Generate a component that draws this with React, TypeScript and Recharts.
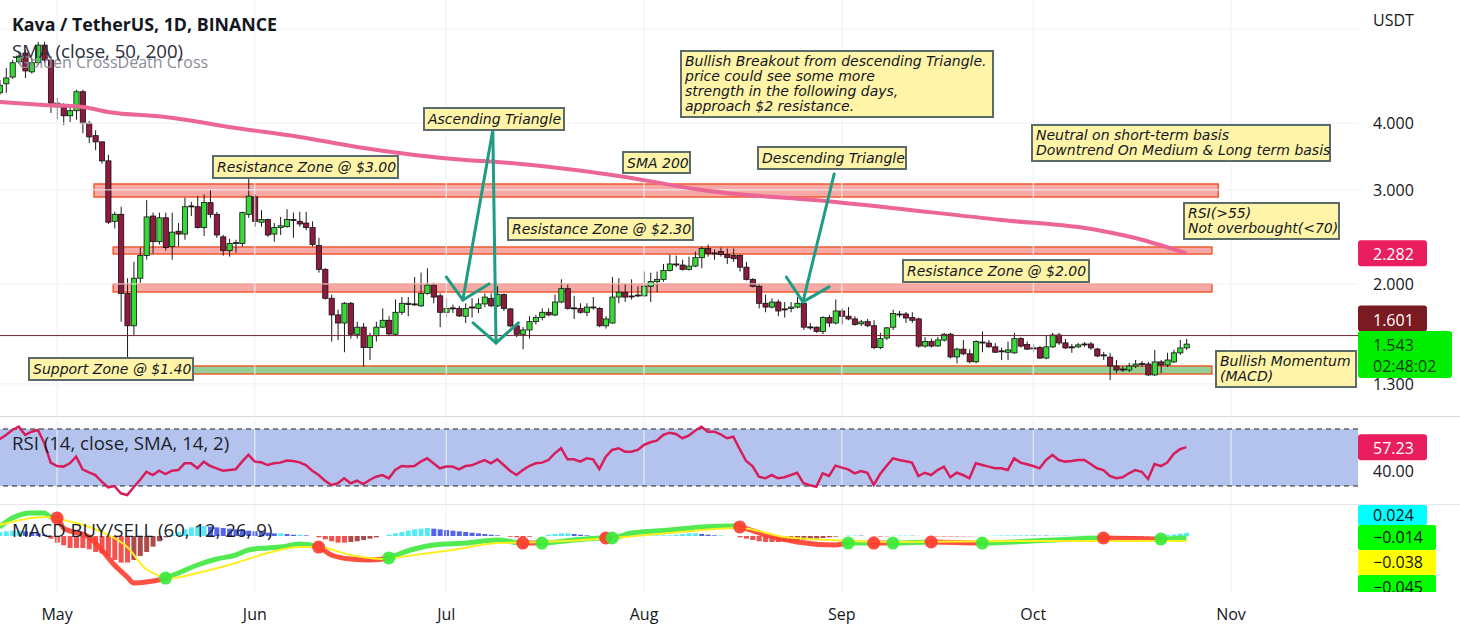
import React from 'react';
import { ComposedChart, Bar, Line, XAxis, YAxis, ReferenceLine, ReferenceArea, Cell } from 'recharts';

const FONT = "'Open Sans', 'Noto Sans', sans-serif";
const NOTE_FONT = "'DejaVu Sans', sans-serif";

// daily candles, index 0 = Apr 22 ... index 186 = Oct 25, [open, high, low, close]
const ohlc: [number, number, number, number][] = [
  [4.56, 4.82, 4.52, 4.71], [4.74, 5.07, 4.56, 4.86], [4.88, 5.25, 4.84, 5.19], [5.21, 5.44, 5.16, 5.34], [5.41, 5.48, 4.86, 5.01],
  [4.99, 5.3, 4.95, 5.19], [5.19, 5.68, 5.14, 5.6], [5.6, 5.68, 5.19, 5.25], [5.25, 5.32, 4.18, 4.36], [4.36, 4.46, 4.07, 4.29],
  [4.29, 4.36, 3.97, 4.13], [4.13, 4.33, 4.02, 4.22], [4.22, 4.62, 4.06, 4.58], [4.58, 4.62, 3.83, 4.0], [4.0, 4.04, 3.67, 3.77],
  [3.79, 3.88, 3.56, 3.69], [3.69, 3.7, 3.36, 3.4], [3.4, 3.49, 2.59, 2.61], [2.62, 2.73, 2.54, 2.7], [2.7, 2.79, 1.7, 1.92],
  [1.92, 2.05, 1.43, 1.67], [1.67, 2.2, 1.6, 2.05], [2.05, 2.34, 2.01, 2.26], [2.26, 2.87, 2.22, 2.67], [2.68, 2.72, 2.28, 2.4],
  [2.4, 2.72, 2.37, 2.66], [2.66, 2.72, 2.31, 2.34], [2.35, 2.72, 2.22, 2.5], [2.51, 2.6, 2.35, 2.48], [2.48, 2.9, 2.42, 2.79],
  [2.8, 2.85, 2.68, 2.79], [2.79, 2.92, 2.54, 2.55], [2.55, 2.94, 2.46, 2.84], [2.84, 3.0, 2.66, 2.7], [2.7, 2.73, 2.44, 2.47],
  [2.45, 2.47, 2.26, 2.31], [2.31, 2.43, 2.25, 2.38], [2.38, 2.42, 2.29, 2.39], [2.38, 2.73, 2.35, 2.72], [2.7, 3.27, 2.66, 2.92],
  [2.91, 2.94, 2.56, 2.62], [2.61, 2.75, 2.56, 2.64], [2.64, 2.65, 2.45, 2.47], [2.48, 2.6, 2.4, 2.55], [2.55, 2.67, 2.47, 2.57],
  [2.56, 2.76, 2.55, 2.64], [2.64, 2.72, 2.44, 2.63], [2.62, 2.73, 2.56, 2.59], [2.6, 2.73, 2.52, 2.55], [2.55, 2.62, 2.35, 2.37],
  [2.36, 2.44, 2.1, 2.13], [2.13, 2.14, 1.87, 1.88], [1.88, 1.91, 1.56, 1.75], [1.75, 1.79, 1.57, 1.69], [1.69, 1.85, 1.49, 1.84],
  [1.84, 1.85, 1.58, 1.61], [1.61, 1.7, 1.58, 1.66], [1.66, 1.69, 1.4, 1.52], [1.52, 1.62, 1.44, 1.6], [1.6, 1.7, 1.56, 1.66],
  [1.66, 1.8, 1.655, 1.71], [1.71, 1.74, 1.605, 1.612], [1.61, 1.87, 1.605, 1.77], [1.77, 1.89, 1.75, 1.84], [1.84, 1.89, 1.74, 1.83],
  [1.835, 2.06, 1.82, 1.827], [1.82, 2.1, 1.81, 1.92], [1.92, 2.14, 1.91, 1.99], [1.99, 2.01, 1.84, 1.89], [1.9, 1.92, 1.66, 1.77],
  [1.77, 1.88, 1.73, 1.8], [1.804, 1.83, 1.765, 1.796], [1.8, 1.82, 1.735, 1.742], [1.74, 1.84, 1.69, 1.8], [1.811, 1.88, 1.73, 1.804],
  [1.8, 1.88, 1.765, 1.835], [1.835, 1.92, 1.81, 1.89], [1.88, 1.92, 1.81, 1.82], [1.82, 1.98, 1.81, 1.91], [1.91, 1.92, 1.78, 1.8],
  [1.796, 1.804, 1.66, 1.669], [1.67, 1.69, 1.59, 1.61], [1.61, 1.66, 1.51, 1.64], [1.64, 1.74, 1.58, 1.7], [1.7, 1.75, 1.68, 1.73],
  [1.73, 1.8, 1.71, 1.77], [1.77, 1.8, 1.74, 1.75], [1.75, 1.91, 1.74, 1.85], [1.85, 2.04, 1.84, 1.96], [1.96, 2.0, 1.79, 1.8],
  [1.804, 1.9, 1.72, 1.8], [1.8, 1.84, 1.76, 1.77], [1.77, 1.84, 1.74, 1.81], [1.811, 1.89, 1.79, 1.804], [1.8, 1.81, 1.66, 1.67],
  [1.67, 1.74, 1.65, 1.72], [1.69, 2.06, 1.685, 1.89], [1.89, 2.05, 1.84, 1.93], [1.93, 2.0, 1.85, 1.89], [1.899, 2.04, 1.87, 1.891],
  [1.907, 1.98, 1.89, 1.899], [1.9, 2.11, 1.89, 1.98], [1.98, 2.1, 1.85, 2.02], [2.02, 2.11, 1.93, 2.04], [2.04, 2.18, 2.02, 2.12],
  [2.12, 2.27, 2.11, 2.18], [2.18, 2.26, 2.15, 2.171], [2.17, 2.22, 2.12, 2.13], [2.13, 2.25, 2.12, 2.16], [2.16, 2.3, 2.15, 2.24],
  [2.24, 2.35, 2.14, 2.33], [2.33, 2.37, 2.25, 2.28], [2.286, 2.32, 2.22, 2.276], [2.3, 2.34, 2.25, 2.27], [2.27, 2.33, 2.18, 2.24],
  [2.26, 2.33, 2.2, 2.23], [2.26, 2.27, 2.11, 2.15], [2.15, 2.2, 2.03, 2.04], [2.04, 2.05, 1.97, 1.98], [1.98, 2.0, 1.8, 1.84],
  [1.84, 1.91, 1.77, 1.81], [1.81, 1.88, 1.8, 1.85], [1.85, 1.87, 1.74, 1.78], [1.796, 1.85, 1.73, 1.788], [1.8, 1.85, 1.77, 1.81],
  [1.81, 1.89, 1.8, 1.84], [1.84, 1.85, 1.64, 1.66], [1.662, 1.69, 1.64, 1.658], [1.66, 1.665, 1.62, 1.63], [1.63, 1.74, 1.61, 1.73],
  [1.73, 1.75, 1.66, 1.69], [1.69, 1.87, 1.68, 1.78], [1.78, 1.8, 1.68, 1.74], [1.74, 1.81, 1.71, 1.72], [1.72, 1.74, 1.67, 1.68],
  [1.684, 1.713, 1.669, 1.698], [1.7, 1.72, 1.66, 1.67], [1.67, 1.71, 1.51, 1.52], [1.52, 1.62, 1.51, 1.58], [1.584, 1.662, 1.571, 1.655],
  [1.66, 1.79, 1.64, 1.76], [1.757, 1.78, 1.73, 1.753], [1.757, 1.773, 1.691, 1.727], [1.73, 1.77, 1.69, 1.71], [1.72, 1.73, 1.52, 1.53],
  [1.53, 1.59, 1.52, 1.56], [1.56, 1.58, 1.52, 1.53], [1.531, 1.591, 1.525, 1.571], [1.57, 1.62, 1.56, 1.61], [1.61, 1.62, 1.45, 1.46],
  [1.46, 1.52, 1.42, 1.51], [1.51, 1.57, 1.47, 1.48], [1.48, 1.51, 1.42, 1.43], [1.43, 1.57, 1.42, 1.56], [1.557, 1.63, 1.49, 1.551],
  [1.55, 1.57, 1.52, 1.525], [1.525, 1.55, 1.486, 1.49], [1.499, 1.52, 1.44, 1.495], [1.49, 1.56, 1.44, 1.505], [1.486, 1.62, 1.48, 1.58],
  [1.58, 1.59, 1.52, 1.53], [1.54, 1.56, 1.505, 1.51], [1.518, 1.544, 1.492, 1.515], [1.52, 1.53, 1.447, 1.453], [1.453, 1.605, 1.445, 1.525],
  [1.525, 1.62, 1.518, 1.605], [1.605, 1.62, 1.538, 1.551], [1.551, 1.578, 1.511, 1.518], [1.525, 1.544, 1.486, 1.521], [1.525, 1.551, 1.518, 1.538],
  [1.544, 1.557, 1.525, 1.541], [1.544, 1.557, 1.505, 1.518], [1.511, 1.518, 1.459, 1.466], [1.473, 1.492, 1.441, 1.469], [1.459, 1.486, 1.322, 1.404],
  [1.404, 1.441, 1.362, 1.38], [1.386, 1.404, 1.368, 1.383], [1.38, 1.423, 1.368, 1.404], [1.404, 1.441, 1.392, 1.416], [1.42, 1.435, 1.398, 1.416],
  [1.416, 1.429, 1.345, 1.351], [1.351, 1.505, 1.345, 1.429], [1.429, 1.441, 1.362, 1.41], [1.41, 1.486, 1.398, 1.441], [1.429, 1.505, 1.423, 1.486],
  [1.486, 1.571, 1.473, 1.518], [1.518, 1.578, 1.505, 1.543],
];

// SMA 200 read at a few days [day, value]
const sma200: [number, number][] = [
  [0, 4.382], [7, 4.326], [13, 4.289], [17, 4.198], [26, 4.108], [37, 3.918], [47, 3.769], [56, 3.61], [73, 3.413],
  [78, 3.384], [98, 3.172], [110, 2.999], [131, 2.848], [157, 2.635], [172, 2.524], [178, 2.438], [186, 2.282],
];

const rsi = [
  62.8, 65.8, 69.3, 71.6, 65.8, 68.1, 69.3, 60.2, 46.4, 44.0,
  43.6, 45.9, 50.6, 41.7, 39.6, 37.7, 33.0, 29.1, 30.0, 24.9,
  23.7, 29.1, 34.2, 40.0, 37.7, 40.7, 38.4, 40.7, 41.2, 45.9,
  45.9, 42.4, 47.1, 44.0, 42.4, 40.7, 41.2, 41.7, 47.1, 51.8,
  47.1, 46.6, 44.7, 45.9, 46.4, 47.8, 47.5, 46.6, 44.7, 40.7,
  37.7, 33.7, 30.7, 31.9, 35.4, 31.9, 33.7, 31.4, 34.2, 36.5,
  37.7, 35.4, 41.2, 44.0, 43.6, 44.0, 47.1, 49.4, 45.9, 42.4,
  43.6, 43.6, 41.7, 44.0, 44.5, 46.4, 48.2, 45.9, 48.7, 44.7,
  40.7, 37.7, 41.2, 44.0, 45.9, 46.4, 48.2, 52.9, 56.5, 48.7,
  48.7, 47.1, 49.4, 48.7, 41.9, 50.6, 55.3, 56.5, 54.1, 54.1,
  55.3, 58.8, 60.7, 61.8, 65.8, 67.4, 66.5, 63.5, 65.3, 68.8,
  71.6, 68.1, 68.1, 66.3, 63.5, 64.6, 55.8, 47.5, 44.0, 36.5,
  35.4, 37.7, 35.4, 36.1, 37.7, 39.3, 31.9, 30.5, 29.5, 38.9,
  37.0, 44.3, 42.9, 41.7, 38.9, 40.5, 39.3, 30.7, 38.4, 44.0,
  49.4, 48.2, 47.3, 46.4, 37.0, 39.3, 37.7, 41.2, 43.6, 36.1,
  39.3, 37.7, 35.4, 45.9, 44.7, 43.6, 42.4, 42.4, 41.2, 49.4,
  46.4, 45.2, 44.0, 42.4, 48.2, 51.8, 48.2, 47.1, 47.5, 48.2,
  48.2, 45.4, 42.4, 41.2, 37.0, 35.4, 36.1, 38.9, 41.2, 40.0,
  34.9, 45.4, 44.0, 46.4, 52.5, 55.8, 57.23,
];

// MACD line / signal read at a few days [day, value]
const macdLine: [number, number][] = [
  [0, 0.068], [2, 0.135], [5, 0.173], [7, 0.173], [8, 0.143], [9, 0.135], [10, 0.06], [14, -0.008], [16, -0.105],
  [18, -0.218], [20, -0.308], [21, -0.353], [23, -0.346], [26, -0.316], [28, -0.278], [31, -0.218], [34, -0.173],
  [37, -0.143], [39, -0.105], [42, -0.09], [44, -0.083], [47, -0.06], [50, -0.083], [52, -0.143], [55, -0.173],
  [58, -0.18], [61, -0.165], [63, -0.128], [65, -0.098], [68, -0.068], [73, -0.053], [78, -0.03], [82, -0.053],
  [85, -0.053], [90, -0.03], [95, -0.015], [96, -0.015], [99, 0.023], [105, 0.045], [110, 0.068], [115, 0.075],
  [116, 0.068], [120, 0.008], [125, -0.045], [131, -0.068], [133, -0.053], [137, -0.053], [140, -0.053],
  [146, -0.045], [154, -0.053], [165, -0.03], [173, -0.015], [182, -0.023], [186, -0.014],
];
const signalLine: [number, number][] = [
  [0, 0.083], [7, 0.143], [10, 0.12], [16, 0.03], [20, -0.083], [23, -0.25], [27, -0.316], [31, -0.278], [37, -0.203],
  [42, -0.128], [47, -0.083], [50, -0.083], [55, -0.143], [60, -0.173], [65, -0.143], [71, -0.105], [78, -0.053],
  [85, -0.045], [96, -0.015], [105, 0.023], [116, 0.06], [123, -0.008], [130, -0.03], [140, -0.045], [160, -0.038],
  [186, -0.038],
];
const macdHist = [
  0.03, 0.035, 0.04, 0.04, 0.035, 0.03, 0.02, 0.01,
  -0.02, -0.05, -0.07, -0.09, -0.09, -0.09, -0.1, -0.12, -0.13, -0.15, -0.18, -0.2, -0.2, -0.18, -0.15, -0.12, -0.08, -0.04,
  -0.01,
  0.01, 0.03, 0.05, 0.065, 0.075, 0.075, 0.07, 0.065, 0.06, 0.055, 0.05, 0.045, 0.04, 0.035, 0.03, 0.025, 0.02, 0.02, 0.015, 0.01, 0.01, 0.005,
  0,
  -0.01, -0.025, -0.04, -0.05, -0.05, -0.045, -0.04, -0.03, -0.02, -0.01,
  0,
  0.01, 0.02, 0.03, 0.04, 0.05, 0.055, 0.06, 0.055, 0.05, 0.045, 0.04, 0.035, 0.03, 0.025, 0.02, 0.015, 0.01, 0.005,
  0, -0.005, -0.01, -0.01, -0.005, 0, 0,
  0.01, 0.015, 0.02, 0.02, 0.015, 0.01, 0.005,
  0, 0, -0.005, 0, 0, 0, 0.005, 0.005, 0.005, 0.005, 0.005, 0.005, 0.005,
  0.01, 0.015, 0.02, 0.02, 0.015, 0.01,
  0.005, 0.005, 0, 0,
  -0.01, -0.02, -0.03, -0.04, -0.045, -0.045, -0.045, -0.04, -0.04, -0.035, -0.03, -0.025, -0.02, -0.015, -0.01, -0.005,
  0, 0.003, 0.004, 0.003, 0,
  -0.003, -0.004, -0.002,
  0.002, 0.003, 0.003, 0.002, 0.001, 0,
  -0.002, -0.003, -0.004, -0.004, -0.003, -0.003, -0.002, -0.001,
  0.001, 0.002, 0.003, 0.004, 0.004, 0.005, 0.005, 0.005, 0.004, 0.004, 0.003, 0.003, 0.003, 0.002, 0.002, 0.002, 0.001, 0.001, 0,
  -0.002, -0.004, -0.006, -0.007, -0.007, -0.006, -0.005, -0.003, -0.001,
  0.004, 0.008, 0.012, 0.018, 0.024,
];
// MACD crossings: day, direction of the cross
const macdCrosses: [number, 'up' | 'down'][] = [
  [9, 'down'], [26, 'up'], [50, 'down'], [61, 'up'], [82, 'down'], [85, 'up'], [95, 'down'], [96, 'up'],
  [116, 'down'], [133, 'up'], [137, 'down'], [140, 'up'], [146, 'down'], [154, 'up'], [173, 'down'], [182, 'up'],
];

const monthTicks = [9, 40, 70, 101, 132, 162, 193];
const monthLabels = ['May', 'Jun', 'Jul', 'Aug', 'Sep', 'Oct', 'Nov'];
const priceTicks = [1.3, 2, 3, 4, 6];
const currentLevel = 1.601;

// horizontal zones [fromDay, toDay, low, high, kind]
const zones: [number, number, number, number, 'res' | 'sup'][] = [
  [14.8, 191, 2.91, 3.078, 'res'],
  [17.8, 190, 2.276, 2.346, 'res'],
  [17.8, 190, 1.932, 2.0, 'res'],
  [17.8, 190, 1.357, 1.404, 'sup'],
];

// trend arrows [day1, price1, day2, price2]
const arrows: [number, number, number, number][] = [
  [77.3, 3.884, 72.6, 1.867], [70.0, 2.061, 72.6, 1.867], [76.7, 2.0, 72.6, 1.867],
  [77.3, 3.884, 77.8, 1.551], [74.2, 1.691, 77.8, 1.551], [81.3, 1.691, 77.8, 1.551],
  [130.8, 3.213, 125.9, 1.851], [123.3, 2.061, 125.9, 1.851], [130.0, 1.975, 125.9, 1.851],
];

const notes = [
  { lines: ['Resistance Zone @ $3.00'], left: 212, top: 155, w: 187, h: 24 },
  { lines: ['Ascending Triangle'], left: 423, top: 107, w: 142, h: 24 },
  { lines: ['SMA 200'], left: 622, top: 151, w: 69, h: 23 },
  { lines: ['Descending Triangle'], left: 757, top: 146, w: 150, h: 24 },
  {
    lines: ['Bullish Breakout from descending Triangle.', 'price could see some more', 'strength in the following days,', 'approach $2 resistance.'],
    left: 680, top: 50, w: 314, h: 68,
  },
  { lines: ['Neutral on short-term basis', 'Downtrend On Medium & Long term basis'], left: 1031, top: 124, w: 300, h: 38 },
  { lines: ['Resistance Zone @ $2.30'], left: 507, top: 217, w: 187, h: 24 },
  { lines: ['RSI(>55)', 'Not overbought(<70)'], left: 1183, top: 202, w: 157, h: 38 },
  { lines: ['Resistance Zone @ $2.00'], left: 902, top: 259, w: 188, h: 24 },
  { lines: ['Support Zone @ $1.40'], left: 28, top: 357, w: 166, h: 24 },
  { lines: ['Bullish Momentum', '(MACD)'], left: 1215, top: 350, w: 142, h: 38 },
];

const X_DOMAIN: [number, number] = [0.06, 212.9];
const AXIS_W = 102;
const GREEN = '#3ad93a';
const RED = '#8e1a3c';

const lastDay = ohlc.length - 1;
const smaMap = new Map(sma200);
const macdMap = new Map(macdLine);
const sigMap = new Map(signalLine);
const crossMap = new Map(macdCrosses);

const priceRows = ohlc.map(([o, h, l, c], i) => ({ day: i, o, h, l, c, range: [l, h], sma: smaMap.get(i) ?? null }));
const rsiRows = rsi.map((v, i) => ({ day: i, rsi: v }));
const macdRows = ohlc.map((_, i) => ({
  day: i,
  hist: macdHist[i],
  macd: macdMap.get(i) ?? null,
  signal: sigMap.get(i) ?? null,
  redDot: crossMap.get(i) === 'down' ? macdMap.get(i) ?? null : null,
  greenDot: crossMap.get(i) === 'up' ? macdMap.get(i) ?? null : null,
}));

const histColor = (i: number) => {
  const v = macdHist[i];
  const prev = i > 0 ? macdHist[i - 1] : 0;
  if (v >= 0) return v >= prev ? '#55eaf6' : '#5364e6';
  return v <= prev ? '#f4524f' : '#ad4b4b';
};

// colour stops for the MACD line, green while above signal, red below
const macdStops: { off: number; color: string }[] = [];
{
  let from = 0;
  let color = '#3ee83e';
  for (const [d, dir] of macdCrosses) {
    macdStops.push({ off: from / lastDay, color }, { off: d / lastDay, color });
    from = d;
    color = dir === 'down' ? '#ff3d2e' : '#3ee83e';
  }
  macdStops.push({ off: from / lastDay, color }, { off: 1, color });
}

const Candle = (props: any) => {
  const { x, y, width, height, payload } = props;
  if (!payload || x == null || y == null) return <g />;
  const top = Math.min(y, y + height);
  const hgt = Math.abs(height);
  const lh = Math.log(payload.h);
  const span = lh - Math.log(payload.l);
  const toY = (v: number) => (span > 0 ? top + ((lh - Math.log(v)) / span) * hgt : top);
  const cx = x + width / 2;
  const yo = toY(payload.o);
  const yc = toY(payload.c);
  const up = payload.c >= payload.o;
  return (
    <g>
      <line x1={cx} x2={cx} y1={top} y2={top + hgt} stroke="#1a1a1a" strokeWidth={1} />
      <rect
        x={cx - 2.6}
        y={Math.min(yo, yc)}
        width={5.2}
        height={Math.max(1, Math.abs(yo - yc))}
        fill={up ? GREEN : RED}
        stroke="#111"
        strokeWidth={0.8}
      />
    </g>
  );
};

const Badge = (props: any) => {
  const { viewBox, text, sub, bg, color = '#fff', w = 69, dy = 0 } = props;
  if (!viewBox) return null;
  const x0 = viewBox.x + viewBox.width;
  const cy = viewBox.y + dy;
  return (
    <g>
      <rect x={x0} y={cy - 13} width={w} height={sub ? 47 : 26} rx={3} fill={bg} />
      <text x={x0 + 15} y={cy + 1} dominantBaseline="central" fontSize={16} fill={color} fontFamily={FONT}>
        {text}
      </text>
      {sub && (
        <text x={x0 + 15} y={cy + 22} dominantBaseline="central" fontSize={16} fill={color} fontFamily={FONT}>
          {sub}
        </text>
      )}
    </g>
  );
};

const crossDot = (fill: string) => (p: any) =>
  p.value != null && Number.isFinite(p.cy) ? (
    <circle key={`d${p.index}`} cx={p.cx} cy={p.cy} r={6.5} fill={fill} fillOpacity={0.92} />
  ) : (
    <g key={`d${p.index}`} />
  );

const monthGrid = monthTicks.map((d) => <ReferenceLine key={`m${d}`} x={d} stroke="#eef0f5" strokeWidth={1} />);

const txt = (s: React.CSSProperties): React.CSSProperties => ({
  position: 'absolute',
  fontFamily: FONT,
  whiteSpace: 'pre',
  lineHeight: '22px',
  color: '#131722',
  ...s,
});

const macdBadges = [
  { text: macdHist[lastDay].toFixed(3), bg: '#00ffff', top: 505, h: 20, w: 69 },
  { text: '\u22120.014', bg: '#00ff00', top: 525, h: 25, w: 78 },
  { text: '\u2212' + Math.abs(signalLine[signalLine.length - 1][1]).toFixed(3), bg: '#ffff00', top: 550, h: 25, w: 78 },
  { text: '\u22120.045', bg: '#00ff00', top: 575, h: 25, w: 78 },
];

export default function App() {
  const last = ohlc[lastDay];
  return (
    <div style={{ position: 'absolute', left: 0, top: 0, width: 1460, height: 634, background: '#fff', overflow: 'hidden' }}>
      {/* price pane */}
      <div style={{ position: 'absolute', left: 0, top: 0 }}>
        <ComposedChart width={1460} height={417} data={priceRows} margin={{ top: 0, right: 0, bottom: 0, left: 0 }}>
          <XAxis dataKey="day" type="number" domain={X_DOMAIN} hide allowDataOverflow />
          <YAxis
            orientation="right"
            width={AXIS_W}
            scale="log"
            type="number"
            domain={[1.127, 6.802]}
            allowDataOverflow
            ticks={priceTicks}
            tickFormatter={(v: number) => (v >= 6 ? '' : v.toFixed(3))}
            axisLine={false}
            tickLine={false}
            tickSize={0}
            tickMargin={15}
            tick={{ fontSize: 16, fill: '#131722', fontFamily: FONT }}
          />
          {monthGrid}
          {priceTicks.map((p) => (
            <ReferenceLine key={`p${p}`} y={p} stroke="#eef0f5" strokeWidth={1} />
          ))}
          {zones.map(([x1, x2, lo, hi, kind], i) => (
            <ReferenceArea
              key={`z${i}`}
              x1={x1}
              x2={x2}
              y1={lo}
              y2={hi}
              fill={kind === 'res' ? '#ef5350' : '#4caf50'}
              fillOpacity={kind === 'res' ? 0.5 : 0.6}
              stroke="#ef5a2e"
              strokeWidth={1.5}
              strokeOpacity={1}
            />
          ))}
          <ReferenceLine y={currentLevel} stroke="#7b2231" strokeWidth={1} />
          <Bar dataKey="range" barSize={5} shape={(p: any) => <Candle {...p} />} isAnimationActive={false} />
          <Line
            dataKey="sma"
            type="monotone"
            connectNulls
            stroke="#ec6597"
            strokeWidth={4}
            dot={false}
            isAnimationActive={false}
          />
          {arrows.map(([x1, y1, x2, y2], i) => (
            <ReferenceLine
              key={`a${i}`}
              segment={[
                { x: x1, y: y1 },
                { x: x2, y: y2 },
              ]}
              stroke="#1e9c84"
              strokeWidth={3}
              strokeLinecap="round"
              ifOverflow="visible"
            />
          ))}
          <ReferenceLine
            y={sma200[sma200.length - 1][1]}
            stroke="none"
            label={<Badge text={sma200[sma200.length - 1][1].toFixed(3)} bg="#e91e5f" />}
          />
          <ReferenceLine y={currentLevel} stroke="none" label={<Badge text={currentLevel.toFixed(3)} bg="#7a1a22" dy={-17} />} />
          <ReferenceLine
            y={last[3]}
            stroke="none"
            label={<Badge text={last[3].toFixed(3)} sub="02:48:02" bg="#00ee00" color="#123d12" w={94} />}
          />
        </ComposedChart>
      </div>

      {/* RSI pane */}
      <div style={{ position: 'absolute', left: 0, top: 418 }}>
        <ComposedChart width={1460} height={86} data={rsiRows} margin={{ top: 0, right: 0, bottom: 0, left: 0 }}>
          <XAxis dataKey="day" type="number" domain={X_DOMAIN} hide allowDataOverflow />
          <YAxis
            orientation="right"
            width={AXIS_W}
            type="number"
            domain={[17.37, 77.7]}
            allowDataOverflow
            ticks={[40]}
            tickFormatter={(v: number) => v.toFixed(2)}
            axisLine={false}
            tickLine={false}
            tickSize={0}
            tickMargin={15}
            tick={{ fontSize: 16, fill: '#131722', fontFamily: FONT }}
          />
          {monthGrid}
          <ReferenceArea y1={30} y2={70} fill="#b4c3ed" fillOpacity={1} stroke="none" />
          <ReferenceLine y={70} stroke="#222" strokeDasharray="5 4" />
          <ReferenceLine y={30} stroke="#222" strokeDasharray="5 4" />
          <Line dataKey="rsi" type="linear" stroke="#d81d5b" strokeWidth={2.5} dot={false} isAnimationActive={false} />
          <ReferenceLine
            y={rsi[rsi.length - 1]}
            stroke="none"
            label={<Badge text={rsi[rsi.length - 1].toFixed(2)} bg="#e91e5f" />}
          />
        </ComposedChart>
      </div>

      {/* MACD pane */}
      <div style={{ position: 'absolute', left: 0, top: 505 }}>
        <ComposedChart width={1460} height={129} data={macdRows} margin={{ top: 0, right: 0, bottom: 0, left: 0 }}>
          <defs>
            <linearGradient id="macdGrad" x1="0" y1="0" x2="1" y2="0">
              {macdStops.map((s, i) => (
                <stop key={i} offset={s.off} stopColor={s.color} />
              ))}
            </linearGradient>
          </defs>
          <XAxis
            dataKey="day"
            type="number"
            domain={X_DOMAIN}
            allowDataOverflow
            ticks={monthTicks}
            interval={0}
            tickFormatter={(v: number) => monthLabels[monthTicks.indexOf(v)] ?? ''}
            height={42}
            axisLine={false}
            tickLine={false}
            tickSize={0}
            tickMargin={17}
            tick={{ fontSize: 16, fill: '#131722', fontFamily: FONT }}
          />
          <YAxis
            orientation="right"
            width={AXIS_W}
            type="number"
            domain={[-0.421, 0.233]}
            allowDataOverflow
            tick={false}
            axisLine={false}
            tickLine={false}
          />
          {monthGrid}
          <Bar dataKey="hist" barSize={5} isAnimationActive={false}>
            {macdRows.map((r) => (
              <Cell key={`h${r.day}`} fill={histColor(r.day)} />
            ))}
          </Bar>
          <Line
            dataKey="macd"
            type="monotone"
            connectNulls
            stroke="url(#macdGrad)"
            strokeWidth={5}
            strokeOpacity={0.9}
            dot={false}
            isAnimationActive={false}
          />
          <Line
            dataKey="signal"
            type="monotone"
            connectNulls
            stroke="#ffee22"
            strokeWidth={2}
            dot={false}
            isAnimationActive={false}
          />
          <Line dataKey="redDot" stroke="none" dot={crossDot('#ff3b2f')} isAnimationActive={false} />
          <Line dataKey="greenDot" stroke="none" dot={crossDot('#3bea3b')} isAnimationActive={false} />
        </ComposedChart>
      </div>

      {/* pane separators */}
      <div style={{ position: 'absolute', left: 0, top: 416, width: 1460, height: 1, background: '#d6d9e0' }} />
      <div style={{ position: 'absolute', left: 0, top: 504, width: 1460, height: 1, background: '#e4e6ec' }} />

      {/* MACD value badges */}
      <div style={{ position: 'absolute', left: 1358, top: 505, width: 102, height: 87, overflow: 'hidden' }}>
        {macdBadges.map((b, i) => (
          <div
            key={i}
            style={{
              position: 'absolute',
              left: 0,
              top: b.top - 505,
              width: b.w,
              height: b.h,
              background: b.bg,
              fontFamily: FONT,
              fontSize: 16,
              lineHeight: `${b.h}px`,
              paddingLeft: 15,
              boxSizing: 'border-box',
              color: '#111',
              borderRadius: 2,
            }}
          >
            {b.text}
          </div>
        ))}
      </div>

      {/* legends */}
      <div style={txt({ left: 12, top: 13, fontSize: 17.8, fontWeight: 700 })}>Kava / TetherUS, 1D, BINANCE</div>
      <div style={txt({ left: 18, top: 51, fontSize: 16, color: '#8a8d96' })}>Golden CrossDeath Cross</div>
      <div style={txt({ left: 12, top: 40, fontSize: 18.6, color: '#2a2e39' })}>SMA (close, 50, 200)</div>
      <div style={txt({ left: 12, top: 432, fontSize: 18.6, color: '#1b1f2b' })}>RSI (14, close, SMA, 14, 2)</div>
      <div style={txt({ left: 12, top: 519, fontSize: 18.6, color: '#1b1f2b' })}>MACD BUY/SELL (60, 12, 26, 9)</div>
      <div style={txt({ left: 1373, top: 9, fontSize: 16 })}>USDT</div>

      {/* callouts */}
      {notes.map((n, i) => (
        <div
          key={i}
          style={{
            position: 'absolute',
            left: n.left,
            top: n.top,
            width: n.w,
            height: n.h,
            boxSizing: 'border-box',
            background: '#fff4a8',
            border: '2px solid #5b6a6a',
            padding: n.lines.length > 1 ? '2px 3px' : '0 3px',
            display: 'flex',
            flexDirection: 'column',
            justifyContent: 'center',
            fontFamily: NOTE_FONT,
            fontStyle: 'italic',
            fontSize: 14,
            lineHeight: n.lines.length > 1 ? '15px' : '20px',
            color: '#131722',
            whiteSpace: 'pre',
          }}
        >
          {n.lines.map((l, j) => (
            <div key={j}>{l}</div>
          ))}
        </div>
      ))}
    </div>
  );
}
